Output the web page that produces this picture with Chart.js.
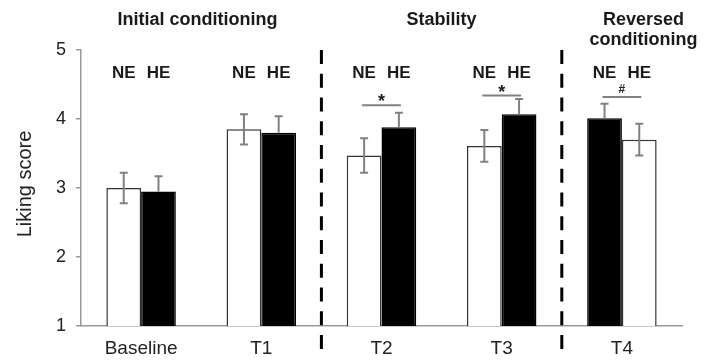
<!DOCTYPE html>
<html>
<head>
<meta charset="utf-8">
<script src="https://cdn.jsdelivr.net/npm/chart.js@4/dist/chart.umd.min.js"></script>
<style>
  html, body { margin: 0; padding: 0; background: #fff; }
  #wrap { width: 710px; height: 363px; }
</style>
</head>
<body>
<div id="wrap"><canvas id="c" width="710" height="363"></canvas></div>
<script>
// ---- data ----
const categories = ['Baseline', 'T1', 'T2', 'T3', 'T4'];
const neMeans = [3.00, 3.85, 3.47, 3.61, 4.01];
const heMeans = [2.95, 3.80, 3.88, 4.07, 3.70];
const neErrors = [0.22, 0.22, 0.25, 0.23, 0.21];
const heErrors = [0.22, 0.24, 0.21, 0.22, 0.23];
const barLabels = ['NE', 'HE'];
const sigSymbols = ['', '', '*', '*', '#'];
const sigLevels = [null, null, 4.20, 4.34, 4.32];
const groupTitles = [['Initial conditioning'], ['Stability'], ['Reversed', 'conditioning']];
const yTicks = [1, 2, 3, 4, 5];

// ---- styling ----
const neFill = categories.map((c, i) => i === 4 ? '#000000' : '#ffffff');
const heFill = categories.map((c, i) => i === 4 ? '#ffffff' : '#000000');
const neBorder = neFill.map(f => f === '#000000' ? '#000000' : '#333333');
const heBorder = heFill.map(f => f === '#000000' ? '#000000' : '#333333');
const titleAnchors = [0.47, 2.5, 4.18];
const dividerAfter = [1, 3];

const annot = {
  id: 'annot',
  afterDatasetsDraw(chart) {
    const ctx = chart.ctx;
    const x = chart.scales.x, y = chart.scales.y;
    const metas = [chart.getDatasetMeta(0), chart.getDatasetMeta(1)];
    const errs = [neErrors, heErrors];
    const fills = [neFill, heFill];
    ctx.save();
    // error bars
    ctx.strokeStyle = '#808080';
    ctx.lineWidth = 2;
    metas.forEach((meta, d) => {
      meta.data.forEach((bar, i) => {
        const v = chart.data.datasets[d].data[i];
        const e = errs[d][i];
        const cx = bar.x;
        const yTop = y.getPixelForValue(v + e);
        const yMid = y.getPixelForValue(v);
        const yBot = y.getPixelForValue(v - e);
        const isBlack = fills[d][i] === '#000000';
        ctx.beginPath();
        ctx.moveTo(cx, yTop); ctx.lineTo(cx, isBlack ? yMid : yBot);
        ctx.moveTo(cx - 4, yTop); ctx.lineTo(cx + 4, yTop);
        if (!isBlack) { ctx.moveTo(cx - 4, yBot); ctx.lineTo(cx + 4, yBot); }
        ctx.stroke();
      });
    });
    // significance lines
    categories.forEach((c, i) => {
      if (sigLevels[i] == null) return;
      const x0 = metas[0].data[i].x - 2, x1 = metas[1].data[i].x + 2;
      const ly = y.getPixelForValue(sigLevels[i]);
      ctx.strokeStyle = '#808080';
      ctx.lineWidth = 2;
      ctx.beginPath(); ctx.moveTo(x0, ly); ctx.lineTo(x1, ly); ctx.stroke();
      ctx.fillStyle = '#222';
      ctx.textAlign = 'center';
      if (sigSymbols[i] === '#') {
        ctx.font = 'bold 12px "Liberation Sans", Arial, sans-serif';
        ctx.textBaseline = 'alphabetic';
        ctx.fillText('#', (x0 + x1) / 2, ly - 4);
      } else {
        ctx.font = 'bold 18px "Liberation Sans", Arial, sans-serif';
        ctx.textBaseline = 'alphabetic';
        ctx.fillText(sigSymbols[i], (x0 + x1) / 2, ly + 2);
      }
    });
    // NE / HE labels
    ctx.fillStyle = '#1a1a1a';
    ctx.font = 'bold 17px "Liberation Sans", Arial, sans-serif';
    ctx.textAlign = 'center';
    ctx.textBaseline = 'middle';
    metas.forEach((meta, d) => {
      meta.data.forEach((bar) => {
        ctx.fillText(barLabels[d], bar.x, 73);
      });
    });
    // dashed dividers
    ctx.strokeStyle = '#000';
    ctx.lineWidth = 3;
    ctx.setLineDash([14, 9.75]);
    dividerAfter.forEach(k => {
      const dx = (x.getPixelForValue(k) + x.getPixelForValue(k + 1)) / 2;
      ctx.beginPath(); ctx.moveTo(dx, chart.chartArea.top); ctx.lineTo(dx, 351); ctx.stroke();
    });
    ctx.setLineDash([]);
    // group titles
    ctx.font = 'bold 18px "Liberation Sans", Arial, sans-serif';
    ctx.fillStyle = '#1a1a1a';
    ctx.textBaseline = 'middle';
    groupTitles.forEach((lines, g) => {
      const a = titleAnchors[g];
      const base = Math.floor(a);
      const gx = x.getPixelForValue(base) + (a - base) * (x.getPixelForValue(1) - x.getPixelForValue(0));
      lines.forEach((t, li) => ctx.fillText(t, gx, 20 + li * 20));
    });
    // y-axis title
    ctx.save();
    ctx.translate(25, 184);
    ctx.rotate(-Math.PI / 2);
    ctx.font = '20px "Liberation Sans", Arial, sans-serif';
    ctx.fillStyle = '#222';
    ctx.textAlign = 'center';
    ctx.textBaseline = 'middle';
    ctx.fillText('Liking score', 0, 0);
    ctx.restore();
    ctx.restore();
  }
};

new Chart(document.getElementById('c'), {
  type: 'bar',
  data: {
    labels: categories,
    datasets: [
      { label: barLabels[0], data: neMeans, backgroundColor: neFill, borderColor: neBorder, borderWidth: 1.5, categoryPercentage: 0.578, barPercentage: 1 },
      { label: barLabels[1], data: heMeans, backgroundColor: heFill, borderColor: heBorder, borderWidth: 1.5, categoryPercentage: 0.578, barPercentage: 1 }
    ]
  },
  options: {
    responsive: false,
    animation: false,
    devicePixelRatio: 1,
    layout: { padding: { top: 50, right: 28, left: 0, bottom: 0 } },
    plugins: { legend: { display: false }, tooltip: { enabled: false }, title: { display: false } },
    scales: {
      x: {
        grid: { display: false, drawTicks: false },
        border: { display: true, color: '#999', width: 1.5 },
        ticks: { color: '#222', padding: 11, font: { size: 19, family: '"Liberation Sans", Arial, sans-serif' }, maxRotation: 0 },
        afterFit(s) { s.height = 37; }
      },
      y: {
        min: 1, max: 5,
        afterBuildTicks(s) { s.ticks = yTicks.map(v => ({ value: v })); },
        grid: { display: true, drawOnChartArea: false, drawTicks: true, tickLength: 5, color: '#999', lineWidth: 1.5 },
        border: { display: true, color: '#999', width: 1.5 },
        ticks: { color: '#222', padding: 10, font: { size: 18, family: '"Liberation Sans", Arial, sans-serif' } },
        afterFit(s) { s.width = 81; }
      }
    }
  },
  plugins: [annot]
});
</script>
</body>
</html>
